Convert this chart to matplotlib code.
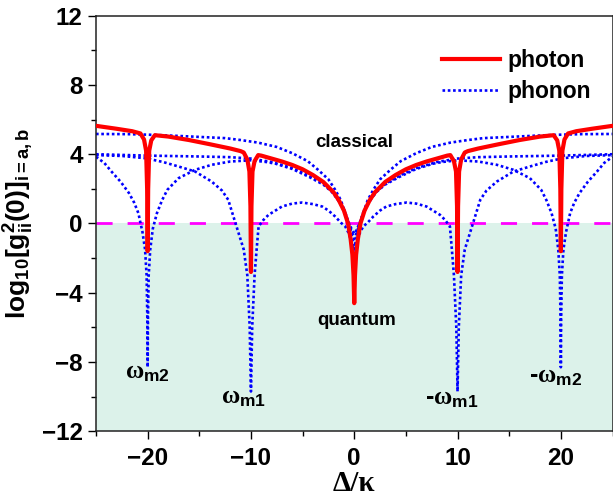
import numpy as np
import matplotlib
matplotlib.use("Agg")
import matplotlib.pyplot as plt

plt.rcParams['font.family'] = ['Liberation Sans', 'DejaVu Sans']
plt.rcParams['font.weight'] = 'bold'
plt.rcParams['mathtext.fontset'] = 'custom'
plt.rcParams['mathtext.rm'] = 'Liberation Sans:bold'
plt.rcParams['mathtext.bf'] = 'Liberation Sans:bold'
plt.rcParams['mathtext.it'] = 'Liberation Serif:bold'

photon_x = [-25, -23, -21.5, -20.7, -20.35, -20.15, -20.05, -20, -19.95, -19.85, -19.65, -19.3,
            -18, -16, -14, -12, -11, -10.7, -10.35, -10.15, -10.05, -10, -9.95, -9.85, -9.65,
            -9.3, -9, -8, -7, -6, -5, -4, -3, -2, -1.5, -1, -0.6, -0.35, -0.18, -0.07, 0]
photon_y = [5.64, 5.47, 5.33, 5.2, 4.85, 4.2, 2.0, -1.6, 2.0, 4.2, 4.8, 5.1,
            5.02, 4.82, 4.58, 4.33, 4.18, 4.1, 3.7, 3.0, 1.0, -2.8, 1.0, 3.0, 3.6,
            3.95, 3.92, 3.75, 3.58, 3.38, 3.13, 2.8, 2.4, 1.8, 1.35, 0.75, 0.0, -0.9, -1.8, -3.0, -4.6]

ph_a_x = [-25, -22, -20, -17.5, -15, -12.5, -11, -9.3, -7.5, -6, -4.5, -3.5, -2.5, -1.84,
          -1.3, -0.87, -0.5, -0.2, 0]
ph_a_y = [5.17, 5.16, 5.13, 5.07, 5.0, 4.93, 4.82, 4.67, 4.42, 4.06, 3.6, 3.1, 2.55, 1.94,
          1.35, 0.6, 0.0, -0.4, -0.6]

ph_b_x = [-25, -24.2, -23.5, -22.6, -21.8, -21.3, -20.9, -20.5, -20.25, -20.1, -20.03, -20,
          -19.97, -19.9, -19.75, -19.5, -19.1, -18.6, -18.1, -17, -15.4, -13.8, -12, -10,
          -8.5, -7.6, -6, -4.4, -3, -2.2, -1.4, -0.9, -0.4, -0.15, 0]
ph_b_y = [3.85, 3.5, 3.0, 2.4, 1.75, 1.2, 0.6, -0.5, -1.5, -3.0, -5.5, -8.3,
          -5.5, -3.0, -1.5, -0.3, 0.6, 1.35, 1.94, 2.62, 3.1, 3.39, 3.58, 3.65,
          3.55, 3.45, 3.15, 2.7, 2.25, 1.85, 1.25, 0.7, -0.3, -1.0, -1.5]

ph_c_x = [-25, -22.5, -20.2, -18.5, -17, -15.4, -13.8, -12.8, -12.2, -11.8, -11.2, -10.7,
          -10.35, -10.12, -10, -9.88, -9.65, -9.45, -9.26, -8.8, -8.3, -7, -6, -5.06, -4,
          -3.1, -2.5, -1.84, -1.3, -0.87, -0.5, -0.2, 0]
ph_c_y = [3.95, 3.9, 3.77, 3.55, 3.29, 3.0, 2.42, 1.9, 1.37, 0.6, -0.55, -1.5,
          -3.0, -6.0, -9.7, -6.0, -3.0, -1.5, -0.17, 0.2, 0.5, 0.98, 1.15, 1.21, 1.12,
          0.98, 0.75, 0.4, 0.05, -0.17, -0.6, -1.2, -2.0]

ph_d_x = [-25, -20, -15, -12, -10, -8, -6, -4.5, -3, -2, -1.2, -0.6, -0.25, 0]
ph_d_y = [4.0, 3.92, 3.87, 3.83, 3.75, 3.55, 3.2, 2.8, 2.3, 1.75, 1.0, 0.1, -0.5, -0.9]

labels = [r'$\omega_{\mathbf{m2}}$', r'$\omega_{\mathbf{m1}}$', r'-$\omega_{\mathbf{m1}}$', r'-$\omega_{\mathbf{m2}}$']
label_x = [-20.0, -10.7, 9.45, 19.5]
label_y = [-8.6, -10.0, -10.1, -8.8]


def mirror(x, y):
    x = np.array(x, dtype=float)
    y = np.array(y, dtype=float)
    return np.concatenate([x, -x[::-1][1:]]), np.concatenate([y, y[::-1][1:]])


fig = plt.figure(figsize=(6.13, 4.98), dpi=100)
ax = fig.add_axes([96 / 613, 66.7 / 498, 516.5 / 613, 415.6 / 498])

ax.axhspan(-12, 0, color='#dcf2ea', lw=0, zorder=0)
ax.axhline(0, color='#ff00ff', lw=2, dashes=(5.8, 5.4), zorder=1)

blue_style = dict(color='#0000ff', lw=1.9, dashes=(1, 1.0), zorder=2)
first = True
for xs, ys in [(ph_a_x, ph_a_y), (ph_b_x, ph_b_y), (ph_c_x, ph_c_y), (ph_d_x, ph_d_y)]:
    mx, my = mirror(xs, ys)
    if first:
        phonon_line, = ax.plot(mx, my, label='phonon', **blue_style)
        first = False
    else:
        ax.plot(mx, my, **blue_style)

mx, my = mirror(photon_x, photon_y)
photon_line, = ax.plot(mx, my, color='#ff0000', lw=3, label='photon', zorder=3)

ax.text(0, 4.65, 'classical', ha='center', va='center', fontsize=13.5, fontweight='bold')
ax.text(0.2, -5.6, 'quantum', ha='center', va='center', fontsize=13.5, fontweight='bold')
for t, lx, ly in zip(labels, label_x, label_y):
    ax.text(lx, ly, t, ha='center', va='center', fontsize=18)

ax.set_xlim(-25, 25)
ax.set_ylim(-12, 12)
ax.set_xticks([-20, -10, 0, 10, 20])
ax.set_xticks([-25, -15, -5, 5, 15, 25], minor=True)
ax.set_yticks([-12, -8, -4, 0, 4, 8, 12])
ax.set_yticks([-10, -6, -2, 2, 6, 10], minor=True)
ax.set_xticklabels(['\u221220', '\u221210', '0', '10', '20'])
ax.set_yticklabels(['\u221212', '\u22128', '\u22124', '0', '4', '8', '12'])
ax.tick_params(which='both', direction='out', width=1, labelsize=17.5, top=False, right=False)
ax.tick_params(which='major', length=5.5)
ax.tick_params(which='minor', length=3.5)
ax.tick_params(axis='x', pad=6)
ax.tick_params(axis='y', pad=4)
for lab in ax.get_xticklabels() + ax.get_yticklabels():
    lab.set_fontweight('bold')
for s in ax.spines.values():
    s.set_linewidth(1.1)
    s.set_color('#222222')

ax.set_ylabel(r'$\mathbf{log_{10}[g^2_{ii}(0)]_{i=a,b}}$', fontsize=19, labelpad=4)
ax.set_xlabel('\u0394/\u03ba', fontsize=21, fontweight='bold', family='Liberation Serif', labelpad=0)

ax.legend(handles=[photon_line, phonon_line], loc='upper left', bbox_to_anchor=(441.7 / 613, 449 / 498),
          bbox_transform=fig.transFigure, frameon=False, handlelength=2.53,
          handletextpad=0.35, labelspacing=0.36, borderpad=0, borderaxespad=0,
          prop={'weight': 'bold', 'size': 16.5})

fig.savefig('out.png', dpi=100)
